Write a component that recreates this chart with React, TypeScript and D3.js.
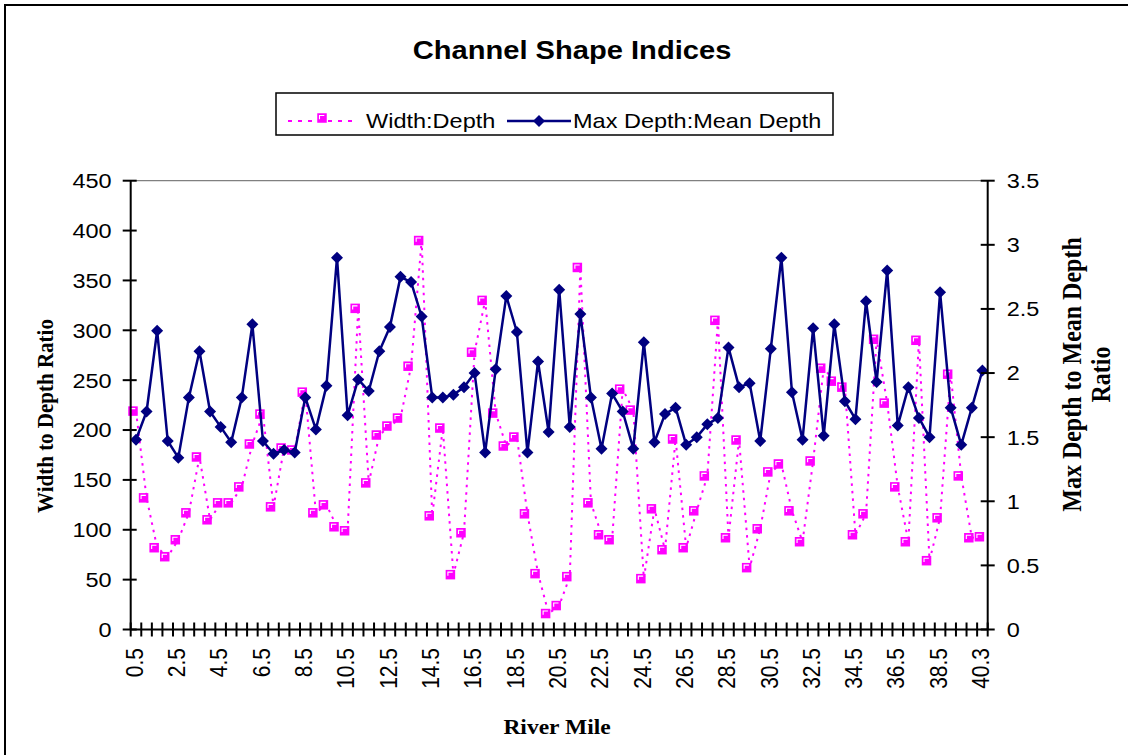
import React from "react";
import * as d3 from "d3";

const riverMile: string[] = [
  "0.5","1","1.5","2","2.5","3","3.5","4","4.5","5","5.5","6","6.5","7","7.5","8","8.5","9","9.5","10",
  "10.5","11","11.5","12","12.5","13","13.5","14","14.5","15","15.5","16","16.5","17","17.5","18","18.5","19","19.5","20",
  "20.5","21","21.5","22","22.5","23","23.5","24","24.5","25","25.5","26","26.5","27","27.5","28","28.5","29","29.5","30",
  "30.5","31","31.5","32","32.5","33","33.5","34","34.5","35","35.5","36","36.5","37","37.5","38","38.5","39","39.5","40",
  "40.3",
];

const widthDepth: number[] = [
  219, 132, 82, 73, 90, 117, 173, 110, 127, 127,
  143, 186, 216, 123, 182, 180, 238, 117, 125, 103,
  99, 322, 147, 195, 204, 212, 264, 390, 114, 202,
  55, 97, 278, 330, 217, 184, 193, 116, 56, 16,
  24, 53, 363, 127, 95, 90, 241, 220, 51, 121,
  80, 191, 82, 119, 154, 310, 92, 190, 62, 101,
  158, 166, 119, 88, 169, 262, 249, 243, 95, 116,
  291, 227, 143, 88, 290, 69, 112, 256, 154, 92,
  93,
];

const maxMeanDepth: number[] = [
  1.48, 1.70, 2.33, 1.47, 1.34, 1.81, 2.17, 1.70, 1.58, 1.46,
  1.81, 2.38, 1.47, 1.37, 1.40, 1.38, 1.81, 1.56, 1.90, 2.90,
  1.67, 1.95, 1.86, 2.17, 2.36, 2.75, 2.71, 2.44, 1.81, 1.81,
  1.83, 1.89, 2.00, 1.38, 2.03, 2.60, 2.32, 1.38, 2.09, 1.54,
  2.65, 1.58, 2.46, 1.81, 1.41, 1.84, 1.70, 1.41, 2.24, 1.46,
  1.68, 1.73, 1.44, 1.50, 1.60, 1.65, 2.20, 1.89, 1.92, 1.47,
  2.19, 2.90, 1.85, 1.48, 2.35, 1.51, 2.38, 1.78, 1.64, 2.56,
  1.93, 2.80, 1.59, 1.89, 1.65, 1.50, 2.63, 1.73, 1.44, 1.73,
  2.02,
];

const xTickLabels: string[] = [
  "0.5","2.5","4.5","6.5","8.5","10.5","12.5","14.5","16.5","18.5","20.5",
  "22.5","24.5","26.5","28.5","30.5","32.5","34.5","36.5","38.5","40.3",
];
const leftTicks: number[] = [0, 50, 100, 150, 200, 250, 300, 350, 400, 450];
const rightTicks: number[] = [0, 0.5, 1, 1.5, 2, 2.5, 3, 3.5];
const rightTickLabels: string[] = ["0", "0.5", "1", "1.5", "2", "2.5", "3", "3.5"];

const W = 1128;
const H = 755;
const PL = 130.7;
const PR = 987.7;
const PT = 180.7;
const PB = 629.5;
const SX = 1.12;
const SANS = "'Liberation Sans', Arial, Helvetica, sans-serif";
const SERIF = "'Liberation Serif', 'Times New Roman', Times, serif";
const PINK = "#FF00FF";
const NAVY = "#000080";

function Txt(props: {
  x: number; y: number; text: string; size: number; family: string; weight?: string;
  anchor?: string; rotate?: number; dy?: string;
}) {
  const { x, y, text, size, family, weight, anchor, rotate, dy } = props;
  return (
    <text
      transform={`translate(${x},${y}) scale(${SX},1)${rotate ? ` rotate(${rotate})` : ""}`}
      fontFamily={family}
      fontSize={size}
      fontWeight={weight || "normal"}
      textAnchor={anchor || "start"}
      dy={dy || "0"}
      fill="#000"
    >
      {text}
    </text>
  );
}

function PinkMarker({ x, y }: { x: number; y: number }) {
  return (
    <g transform={`translate(${x},${y})`}>
      <rect x={-4.75} y={-4.75} width={9.5} height={9.5} fill={PINK} />
      <path d="M-2.5,1.2 V-2.5 H2.3" stroke="#fff" strokeWidth={1.1} fill="none" />
    </g>
  );
}

function Diamond({ x, y }: { x: number; y: number }) {
  const s = 6;
  return <path d={`M${x},${y - s} L${x + s},${y} L${x},${y + s} L${x - s},${y} Z`} fill={NAVY} />;
}

export default function App() {
  const x = d3.scaleBand<string>().domain(riverMile).range([PL, PR]).padding(0);
  const yL = d3.scaleLinear().domain([0, 450]).range([PB, PT]);
  const yR = d3.scaleLinear().domain([0, 3.5]).range([PB, PT]);
  const cx = (i: number) => (x(riverMile[i]) as number) + x.bandwidth() / 2;

  const pinkLine = d3.line<number>().x((_, i) => cx(i)).y((d) => yL(d))(widthDepth) || "";
  const navyLine = d3.line<number>().x((_, i) => cx(i)).y((d) => yR(d))(maxMeanDepth) || "";

  const bandEdges = d3.range(riverMile.length + 1).map((k) => PL + k * x.bandwidth());
  const MO = 3; // square marker drawn slightly left as in the source rendering

  return (
    <svg width={W} height={H} style={{ position: "absolute", left: 0, top: 0, background: "#fff" }}>
      <rect x={0} y={0} width={W} height={H} fill="#fff" />
      <rect x={5} y={5} width={W + 20} height={H + 20} fill="none" stroke="#000" strokeWidth={2} />

      <Txt x={572} y={59} text="Channel Shape Indices" size={26} family={SANS} weight="bold" anchor="middle" />

      {/* Legend */}
      <rect x={276} y={93} width={557} height={42} fill="#fff" stroke="#000" strokeWidth={1.5} />
      <line x1={288} x2={358} y1={121} y2={121} stroke={PINK} strokeWidth={2} strokeDasharray="4,6" />
      <PinkMarker x={322} y={118} />
      <Txt x={366} y={121} dy="0.35em" text="Width:Depth" size={21} family={SANS} />
      <line x1={507} x2={571} y1={121} y2={121} stroke={NAVY} strokeWidth={2.5} />
      <Diamond x={539} y={121} />
      <Txt x={573} y={121} dy="0.35em" text="Max Depth:Mean Depth" size={21} family={SANS} />

      {/* Plot area top border */}
      <line x1={PL} x2={PR} y1={PT} y2={PT} stroke="#808080" strokeWidth={1.2} />

      {/* Series */}
      <path d={pinkLine} fill="none" stroke={PINK} strokeWidth={2} strokeDasharray="2.5,5" />
      {widthDepth.map((d, i) => (
        <PinkMarker key={"p" + i} x={cx(i) - MO} y={yL(d)} />
      ))}
      <path d={navyLine} fill="none" stroke={NAVY} strokeWidth={2.5} strokeLinejoin="round" />
      {maxMeanDepth.map((d, i) => (
        <Diamond key={"d" + i} x={cx(i)} y={yR(d)} />
      ))}

      {/* Axes */}
      <line x1={PL} x2={PL} y1={PT} y2={PB} stroke="#000" strokeWidth={2} />
      <line x1={PR} x2={PR} y1={PT} y2={PB} stroke="#000" strokeWidth={2} />
      <line x1={PL} x2={PR} y1={PB} y2={PB} stroke="#000" strokeWidth={2} />
      {leftTicks.map((t) => (
        <g key={"l" + t}>
          <line x1={PL - 8} x2={PL + 6} y1={yL(t)} y2={yL(t)} stroke="#000" strokeWidth={2} />
          <Txt x={PL - 19} y={yL(t)} dy="0.35em" text={String(t)} size={21} family={SANS} anchor="end" />
        </g>
      ))}
      {rightTicks.map((t, i) => (
        <g key={"r" + t}>
          <line x1={PR - 7} x2={PR + 7} y1={yR(t)} y2={yR(t)} stroke="#000" strokeWidth={2} />
          <Txt x={PR + 19} y={yR(t)} dy="0.35em" text={rightTickLabels[i]} size={21} family={SANS} />
        </g>
      ))}
      {bandEdges.map((bx, k) => (
        <line key={"t" + k} x1={bx} x2={bx} y1={PB - 7} y2={PB + 7} stroke="#000" strokeWidth={2} />
      ))}
      {xTickLabels.map((lab) => (
        <Txt
          key={"x" + lab}
          x={(x(lab) as number) + x.bandwidth() / 2 + 7.5 / SX}
          y={648}
          text={lab}
          size={21}
          family={SANS}
          anchor="end"
          rotate={-90}
        />
      ))}

      {/* Axis titles */}
      <Txt x={45} y={416} dy="0.35em" text="Width to Depth Ratio" size={21} family={SERIF} weight="bold" anchor="middle" rotate={-90} />
      <Txt x={1072} y={374.5} dy="0.35em" text="Max Depth to Mean Depth" size={24} family={SERIF} weight="bold" anchor="middle" rotate={-90} />
      <Txt x={1101} y={374.5} dy="0.35em" text="Ratio" size={24} family={SERIF} weight="bold" anchor="middle" rotate={-90} />
      <Txt x={557} y={734} text="River Mile" size={21} family={SERIF} weight="bold" anchor="middle" />
    </svg>
  );
}
